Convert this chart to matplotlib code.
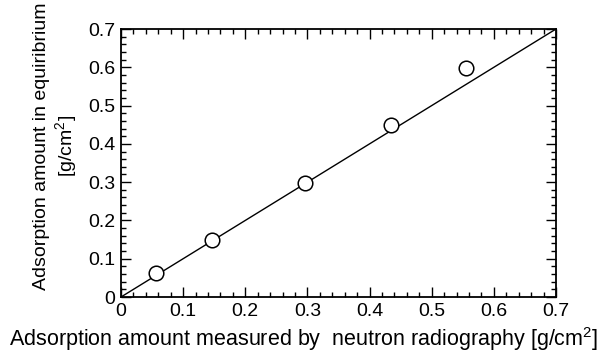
import numpy as np
import matplotlib.pyplot as plt
from matplotlib.ticker import MultipleLocator

plt.rcParams['font.family'] = ['Liberation Sans', 'DejaVu Sans']
plt.rcParams['mathtext.fontset'] = 'custom'
plt.rcParams['mathtext.rm'] = 'Liberation Sans'

# measured data
nr_amount = [0.057, 0.146, 0.296, 0.435, 0.555]
eq_amount = [0.062, 0.149, 0.297, 0.449, 0.597]

# y = x reference line
line_x = [0.0, 0.7]
line_y = [0.0, 0.7]

fig = plt.figure(figsize=(6.12, 3.57), dpi=100)
ax = fig.add_axes([121/612, 1 - 297/357, (556-121)/612, (297-29)/357])

ax.plot(line_x, line_y, color='black', lw=1.0)
ax.plot(nr_amount, eq_amount, 'o', ms=10.5, mfc='white', mec='black', mew=1.1, clip_on=False)

ax.set_xlim(0, 0.7)
ax.set_ylim(0, 0.7)
ax.xaxis.set_major_locator(MultipleLocator(0.1))
ax.xaxis.set_minor_locator(MultipleLocator(0.02))
ax.yaxis.set_major_locator(MultipleLocator(0.1))
ax.yaxis.set_minor_locator(MultipleLocator(0.02))
ticklabels = ['0', '0.1', '0.2', '0.3', '0.4', '0.5', '0.6', '0.7']
ax.set_xticks(np.arange(0, 0.71, 0.1))
ax.set_xticklabels(ticklabels)
ax.set_yticks(np.arange(0, 0.71, 0.1))
ax.set_yticklabels(ticklabels)

ax.tick_params(which='both', direction='in', top=True, right=True, labelsize=14, width=1.0, pad=4)
ax.tick_params(which='major', length=7)
ax.tick_params(which='minor', length=3.5)
for s in ax.spines.values():
    s.set_linewidth(1.3)

ax.set_xlabel('Adsorption amount measured by  neutron radiography [g/cm$^2$]', fontsize=15.5, labelpad=4)
ax.xaxis.label.set_x(0.421)
ax.set_ylabel('Adsorption amount in equiribrium\n[g/cm$^2$]', fontsize=14, labelpad=6, linespacing=1.15)
ax.yaxis.label.set_y(0.563)

fig.savefig('out.png', dpi=100)
